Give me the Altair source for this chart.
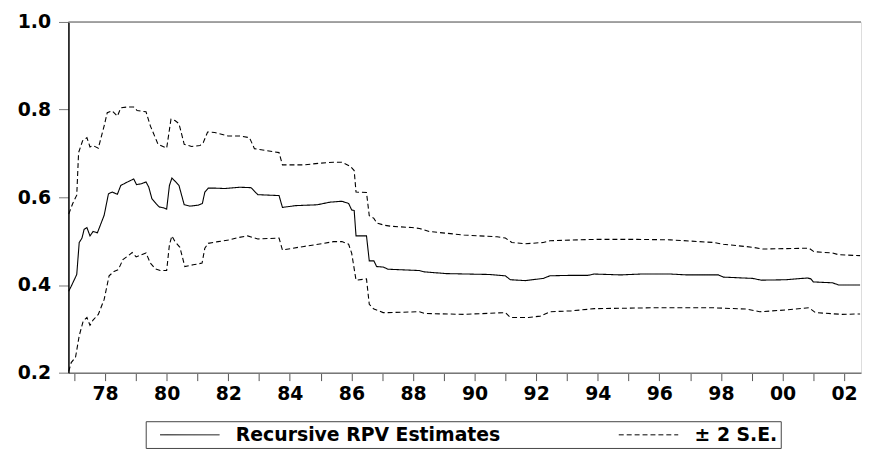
import altair as alt
import pandas as pd

# ---- data (decimal years, values) ----
est_x = [1976.82, 1976.90, 1977.08, 1977.16, 1977.25, 1977.32, 1977.41, 1977.51, 1977.61, 1977.75,
         1977.97, 1978.11, 1978.23, 1978.40, 1978.51, 1978.67, 1978.79, 1978.93, 1979.02, 1979.18,
         1979.33, 1979.42, 1979.52, 1979.65, 1979.76, 1979.90, 1980.00, 1980.09, 1980.17, 1980.27,
         1980.40, 1980.57, 1980.76, 1981.02, 1981.16, 1981.24, 1981.35, 1981.56, 1981.88, 1982.21,
         1982.37, 1982.74, 1982.96, 1983.65, 1983.76, 1984.19, 1984.89, 1985.31, 1985.69, 1985.91,
         1986.01, 1986.09, 1986.15, 1986.49, 1986.58, 1986.73, 1986.82, 1987.03, 1987.19, 1988.21,
         1988.37, 1989.07, 1990.46, 1991.00, 1991.16, 1991.64, 1992.23, 1992.45, 1993.14, 1993.68,
         1993.89, 1994.75, 1995.40, 1996.36, 1996.90, 1997.92, 1998.08, 1999.04, 1999.31, 2000.11,
         2000.81, 2000.92, 2001.00, 2001.62, 2001.83, 2002.52]
est_y = [0.386, 0.397, 0.424, 0.497, 0.507, 0.527, 0.531, 0.512, 0.522, 0.519,
         0.559, 0.608, 0.612, 0.607, 0.627, 0.633, 0.637, 0.642, 0.629, 0.631,
         0.635, 0.623, 0.597, 0.586, 0.578, 0.576, 0.573, 0.627, 0.644, 0.637,
         0.627, 0.583, 0.580, 0.582, 0.586, 0.612, 0.621, 0.621, 0.620, 0.622,
         0.623, 0.622, 0.606, 0.604, 0.577, 0.581, 0.583, 0.589, 0.591, 0.586,
         0.571, 0.570, 0.512, 0.512, 0.455, 0.455, 0.442, 0.441, 0.436, 0.433,
         0.430, 0.426, 0.424, 0.421, 0.412, 0.410, 0.415, 0.421, 0.422, 0.422,
         0.425, 0.423, 0.425, 0.425, 0.423, 0.423, 0.418, 0.415, 0.411, 0.412,
         0.416, 0.414, 0.407, 0.405, 0.400, 0.400]

up_x = [1976.82, 1976.95, 1977.08, 1977.14, 1977.27, 1977.41, 1977.51, 1977.61, 1977.78, 1977.97,
        1978.07, 1978.23, 1978.40, 1978.51, 1978.72, 1978.93, 1979.04, 1979.33, 1979.47, 1979.72,
        1980.00, 1980.14, 1980.27, 1980.40, 1980.57, 1980.81, 1981.08, 1981.19, 1981.33, 1981.56,
        1981.99, 1982.37, 1982.69, 1982.85, 1983.65, 1983.76, 1984.46, 1985.00, 1985.42, 1985.69,
        1985.96, 1986.09, 1986.15, 1986.49, 1986.58, 1986.73, 1986.83, 1987.10, 1987.28, 1987.96,
        1988.21, 1988.53, 1989.65, 1990.73, 1991.00, 1991.21, 1991.64, 1992.23, 1992.45, 1993.89,
        1995.29, 1996.36, 1997.76, 1998.08, 1999.04, 1999.36, 2000.86, 2001.02, 2001.62, 2001.83,
        2002.52]
up_y = [0.562, 0.586, 0.605, 0.702, 0.729, 0.736, 0.715, 0.718, 0.712, 0.763,
        0.793, 0.797, 0.785, 0.804, 0.806, 0.806, 0.798, 0.795, 0.763, 0.721,
        0.712, 0.778, 0.775, 0.768, 0.721, 0.716, 0.718, 0.725, 0.749, 0.748,
        0.740, 0.740, 0.736, 0.711, 0.702, 0.674, 0.674, 0.678, 0.680, 0.680,
        0.671, 0.661, 0.612, 0.611, 0.558, 0.552, 0.541, 0.536, 0.534, 0.531,
        0.529, 0.522, 0.514, 0.510, 0.507, 0.497, 0.494, 0.497, 0.501, 0.504,
        0.504, 0.503, 0.497, 0.493, 0.486, 0.482, 0.484, 0.476, 0.473, 0.469,
        0.467]

lo_x = [1976.82, 1976.90, 1977.04, 1977.16, 1977.29, 1977.41, 1977.51, 1977.61, 1977.78, 1977.97,
        1978.13, 1978.29, 1978.43, 1978.58, 1978.72, 1978.88, 1979.01, 1979.18, 1979.33, 1979.47,
        1979.63, 1979.79, 1980.00, 1980.09, 1980.17, 1980.27, 1980.43, 1980.59, 1980.86, 1981.15,
        1981.24, 1981.35, 1981.67, 1982.05, 1982.31, 1982.63, 1982.96, 1983.65, 1983.76, 1984.46,
        1985.10, 1985.42, 1985.69, 1985.91, 1986.01, 1986.15, 1986.49, 1986.58, 1986.73, 1986.82,
        1987.03, 1987.19, 1988.21, 1988.37, 1989.65, 1991.00, 1991.16, 1991.75, 1992.13, 1992.45,
        1993.14, 1993.89, 1995.79, 1997.76, 1998.83, 1999.26, 2000.11, 2000.86, 2001.07, 2001.93,
        2002.52]
lo_y = [0.203, 0.223, 0.235, 0.284, 0.318, 0.326, 0.308, 0.320, 0.333, 0.367,
        0.421, 0.431, 0.435, 0.458, 0.465, 0.474, 0.464, 0.469, 0.473, 0.450,
        0.437, 0.433, 0.433, 0.492, 0.512, 0.499, 0.486, 0.442, 0.446, 0.450,
        0.484, 0.495, 0.499, 0.503, 0.508, 0.512, 0.505, 0.507, 0.480, 0.488,
        0.495, 0.499, 0.499, 0.493, 0.472, 0.411, 0.414, 0.356, 0.345, 0.343,
        0.337, 0.337, 0.339, 0.335, 0.333, 0.337, 0.326, 0.326, 0.329, 0.339,
        0.341, 0.346, 0.348, 0.348, 0.345, 0.339, 0.343, 0.348, 0.337, 0.333,
        0.334]

legend_labels = ["Recursive RPV Estimates", "\u00b1 2 S.E."]
y_ticks = [0.2, 0.4, 0.6, 0.8, 1.0]
x_ticks = list(range(1977, 2003))

rows = []
for name, xs, ys, lab in [("est", est_x, est_y, legend_labels[0]),
                          ("upper", up_x, up_y, legend_labels[1]),
                          ("lower", lo_x, lo_y, legend_labels[1])]:
    for x, y in zip(xs, ys):
        rows.append({"t": x, "v": y, "line": name, "key": lab})
df = pd.DataFrame(rows)

FONT = "DejaVu Sans"

xscale = alt.Scale(domain=[1976.81, 2002.55], nice=False, zero=False)
yscale = alt.Scale(domain=[0.2, 1.0], nice=False, zero=False)

lines = alt.Chart(df).mark_line(strokeWidth=1.1, color="black").encode(
    x=alt.X("t:Q", scale=xscale, title=None,
            axis=alt.Axis(values=x_ticks, grid=False, tickSize=8, tickColor="#555",
                          domainColor="#777", domainWidth=1.5,
                          labelExpr="datum.value % 2 == 0 ? slice(toString(datum.value), 2) : ''",
                          labelOverlap=False, labelFlush=False, labelPadding=4,
                          labelFont=FONT, labelFontWeight="bold", labelFontSize=19,
                          labelColor="black")),
    y=alt.Y("v:Q", scale=yscale, title=None,
            axis=alt.Axis(values=y_ticks, format=".1f", grid=False, tickSize=10,
                          tickColor="#777", domainColor="black", domainWidth=1.5,
                          labelPadding=8, labelFont=FONT, labelFontWeight="bold",
                          labelFontSize=19, labelColor="black")),
    strokeDash=alt.StrokeDash("key:N",
                              scale=alt.Scale(domain=legend_labels, range=[[1, 0], [5, 3]]),
                              legend=alt.Legend(title=None, orient="none", legendX=78, legendY=403,
                                                direction="horizontal", symbolType="M-3,0H3",
                                                symbolSize=400, symbolStrokeWidth=1,
                                                symbolStrokeColor="black",
                                                symbolFillColor="transparent",
                                                labelExpr="datum.label == '\u00b1 2 S.E.' ? datum.label + '\u00a0\u00a0\u00a0' : datum.label",
                                                labelFont=FONT, labelFontWeight="bold",
                                                labelFontSize=19, labelColor="black",
                                                labelOffset=36, labelLimit=600,
                                                columnPadding=107, padding=3, symbolOffset=31,
                                                strokeColor="#444", fillColor="white")),
    detail="line:N",
)

top = alt.Chart(pd.DataFrame({"v": [1.0]})).mark_rule(color="#888", strokeWidth=1.5).encode(
    y=alt.Y("v:Q", scale=yscale)
)

chart = alt.layer(top, lines).properties(
    width=800, height=354,
    autosize=alt.AutoSizeParams(type="none"),
    padding={"left": 61, "top": 12, "right": 1, "bottom": 80},
).configure_view(stroke=None).configure(background="white")

chart.save("out.html", embed_options={"renderer": "svg", "actions": False})
